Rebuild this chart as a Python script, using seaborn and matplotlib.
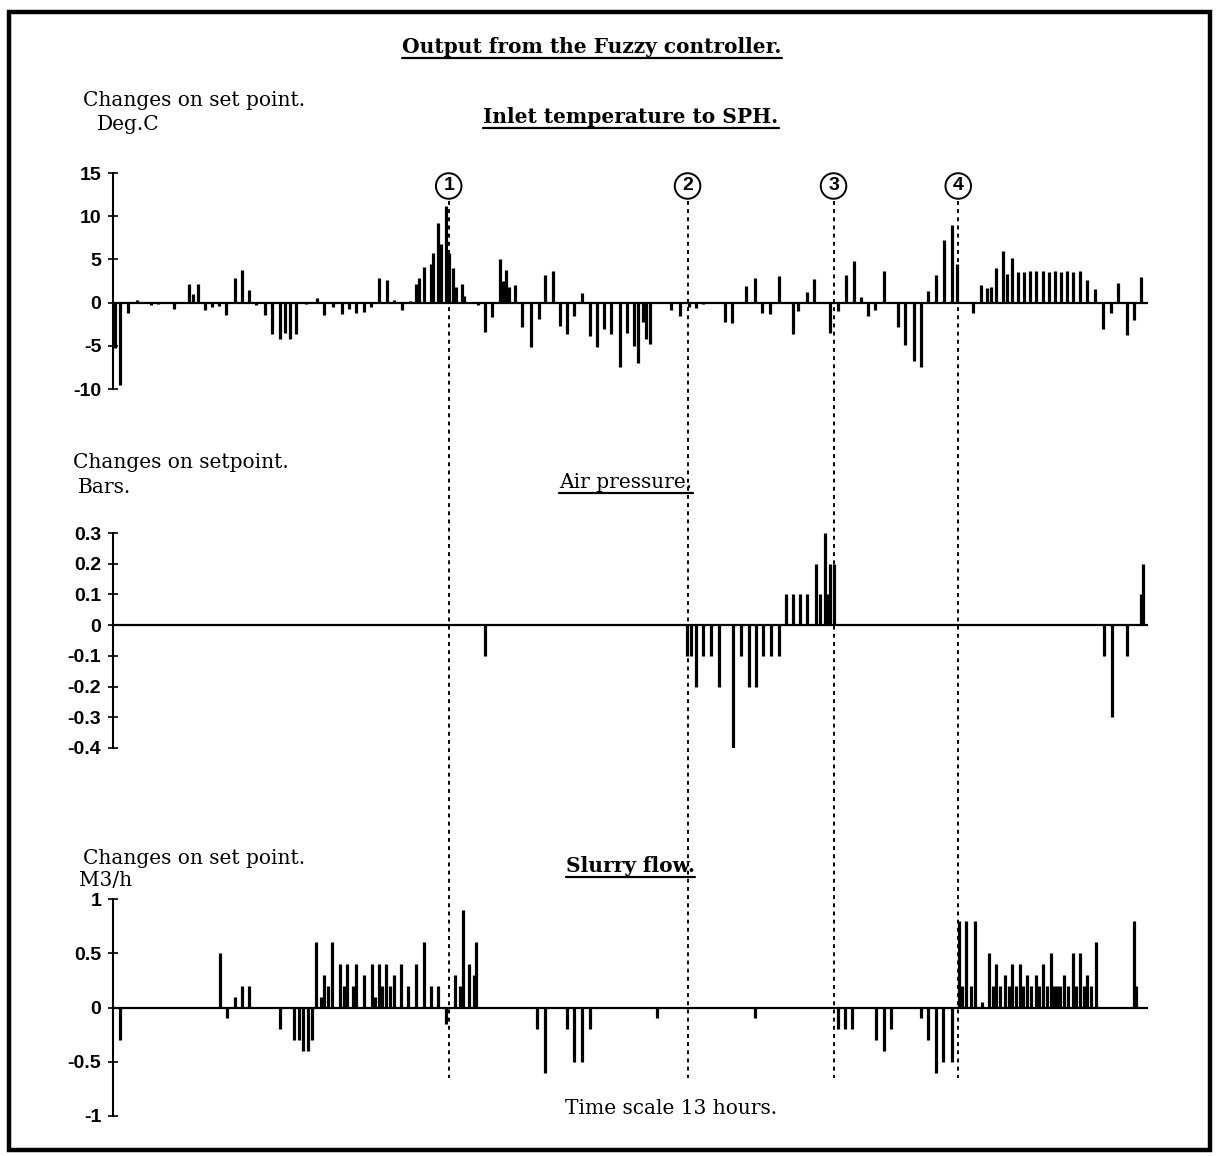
import numpy as np
import pandas as pd
import matplotlib
matplotlib.use('Agg')
import matplotlib.pyplot as plt
import seaborn as sns
from matplotlib import transforms
from matplotlib.lines import Line2D
from matplotlib.patches import Rectangle

sns.set_theme(style='white')
plt.rcParams['font.family'] = ['DejaVu Serif']
plt.rcParams['text.color'] = 'black'
plt.rcParams['ytick.color'] = 'black'
plt.rcParams['ytick.labelcolor'] = 'black'

# ---------------------------------------------------------------------------
# DATA  (time in minutes over the 13 hour window, value = change on set point)
# ---------------------------------------------------------------------------
total_minutes = 780

temp_t = [1.8, 5.3, 11.2, 18, 28.7, 34.1, 45.7, 57.5, 60.2, 63.7, 69.1, 74.5, 79.8, 85.2,
          92, 97.3, 102.7, 108.1, 114.8, 120.2, 125.6, 129.6, 133.7, 137.7, 145.8, 153.9,
          159.2, 166, 172.7, 178.1, 183.5, 188.8, 194.2, 200.4, 206.3, 211.7, 217.9, 223.8,
          228.7, 230.5, 234.6, 240, 241.3, 245.3, 247.5, 251.3, 253.4, 256.1, 258.3, 262.8,
          264.2, 274.9, 280.3, 285.7, 291.6, 293.8, 296.5, 298.6, 303.2, 308.6, 314.8, 320.7,
          325.5, 331.5, 336.8, 342.2, 347.6, 353.5, 359.7, 365.1,
          369.7, 375.1, 381.8, 387.2, 392.6, 395.3, 399.3, 402, 404.7, 420.8, 427.5, 434.3,
          439.7, 445, 461.2, 466.6, 477.3, 484.1, 489.4, 494.8, 501.6, 512.3, 516.4, 523.1,
          528.5, 540.6, 546, 552.7, 558.6, 563.4, 568.8, 574.2, 580.9, 591.7, 597.1, 603.3,
          609.2, 614, 620, 625.9, 632.1, 636.1, 648.2, 654.4, 659, 661.7, 665.7, 671.1,
          673.8, 677.8, 681.8, 686.4, 690.7, 695.3, 700.7, 705.5, 710.1, 714.1, 718.7, 723.6,
          728.9, 734.3, 739.7, 746.4, 751.8, 757.2, 763.9, 769.3, 774.7]
temp_v = [-5.2, -9.5, -1.2, 0.3, -0.3, -0.2, -0.7, 2.1, 1.0, 2.1, -0.9, -0.5, -0.4, -1.4,
          2.8, 3.8, 1.5, -0.3, -1.4, -3.6, -4.2, -3.5, -4.2, -3.6, -0.2, 0.5,
          -1.4, -0.5, -1.3, -0.7, -1.2, -1.1, -0.5, 2.8, 2.6, 0.3, -0.8, 0.2,
          2.1, 2.8, 4.1, 4.5, 5.7, 9.2, 6.8, 11.2, 5.7, 4.0, 1.8, 2.1,
          0.8, -0.3, -3.4, -1.7, 5.0, 2.5, 3.8, 1.8, 2.0, -2.8, -5.1, -1.9,
          3.2, 3.6, -2.7, -3.6, -1.6, 1.1, -3.9, -5.1,
          -3.0, -3.6, -7.5, -3.5, -5.0, -7.0, -2.3, -4.2, -4.8, -0.8, -1.5, -0.5,
          -0.6, -0.2, -2.2, -2.4, 1.9, 2.8, -1.2, -1.3, 3.1, -3.6, -1.0, 1.2,
          2.7, -3.5, -1.0, 3.2, 4.8, 0.6, -1.5, -0.8, 3.7, -2.8, -4.9, -6.8,
          -7.5, 1.3, 3.2, 7.3, 9.0, 4.5, -1.2, 2.0, 1.7, 1.8, 4.0, 6.0,
          3.3, 5.2, 3.5, 3.5, 3.6, 3.6, 3.6, 3.5, 3.6, 3.5, 3.6, 3.5,
          3.6, 2.6, 1.6, -3.0, -1.2, 2.3, -3.8, -2.0, 3.0]

air_t = [280.3, 432.9, 435.6, 439.1, 445, 450.4, 456.6, 467.4, 473.3, 479.5, 484.9, 490.2,
         495.6, 501.6, 506.9, 512.3, 517.7, 523.1, 529.8, 532.5, 536.5, 539.2, 540.6, 543.3,
         747.2, 753.2, 763.9, 775, 776]
air_v = [-0.1, -0.1, -0.1, -0.2, -0.1, -0.1, -0.2, -0.4, -0.1, -0.2, -0.2, -0.1,
         -0.1, -0.1, 0.1, 0.1, 0.1, 0.1, 0.2, 0.1, 0.3, 0.1, 0.2, 0.2,
         -0.1, -0.3, -0.1, 0.1, 0.2]

slurry_t = [5.3, 80.7, 86, 92, 97.3, 102.7, 125.6, 136.4, 139.9, 143.1, 147.1, 149.8,
            153.3, 156.5, 159.2, 161.9, 165.4, 171.3, 174, 176.7, 180.8, 183.5, 189.4, 195,
            197.7, 200.4, 203.1, 205.8, 208.5, 211.7, 217.1, 222.5, 228.7, 234, 240, 245.3,
            250.7, 257.5, 261.5, 263.6, 268.2, 272.3, 273.6, 319.3, 325.3, 342.2, 347.6, 353.5,
            359.7, 410.1, 484.1, 546, 551.3, 556.7, 575, 580.9, 586.3, 608.7, 614, 620,
            625.3, 632.1, 637.4, 640.1, 642.8, 646.9, 649.6, 654.9, 660.3, 663, 665.7, 668.5,
            672.4, 675, 677.8, 680.5, 683.2, 686, 688.6, 692, 695.3, 698, 700.7, 704,
            706.6, 709, 711.4, 714, 716.8, 720, 723.6, 726, 728.9, 732, 734.3, 737,
            740.5, 769.3, 770.6]
slurry_v = [-0.3, 0.5, -0.1, 0.1, 0.2, 0.2, -0.2, -0.3, -0.3, -0.4, -0.4, -0.3,
            0.6, 0.1, 0.3, 0.2, 0.6, 0.4, 0.2, 0.4, 0.2, 0.4, 0.3, 0.4,
            0.1, 0.4, 0.2, 0.4, 0.2, 0.3, 0.4, 0.2, 0.4, 0.6, 0.2, 0.2,
            -0.15, 0.3, 0.2, 0.9, 0.4, 0.3, 0.6, -0.2, -0.6, -0.2, -0.5, -0.5,
            -0.2, -0.1, -0.1, -0.2, -0.2, -0.2, -0.3, -0.4, -0.2, -0.1, -0.3, -0.6,
            -0.5, -0.5, 0.8, 0.2, 0.8, 0.2, 0.8, 0.05, 0.5, 0.2, 0.4, 0.2,
            0.3, 0.2, 0.4, 0.2, 0.4, 0.2, 0.3, 0.2, 0.3, 0.2, 0.4, 0.2,
            0.5, 0.2, 0.2, 0.2, 0.3, 0.2, 0.5, 0.2, 0.5, 0.2, 0.3, 0.2,
            0.6, 0.8, 0.2]

# event markers (minutes)
marker_labels = ['1', '2', '3', '4']
marker_t = [253, 433, 543, 637]

# axis ticks
temp_ticks = [15, 10, 5, 0, -5, -10]
temp_ticklabels = ['15', '10', '5', '0', '-5', '-10']
air_ticks = [0.3, 0.2, 0.1, 0, -0.1, -0.2, -0.3, -0.4]
air_ticklabels = ['0.3', '0.2', '0.1', '0', '-0.1', '-0.2', '-0.3', '-0.4']
slurry_ticks = [1, 0.5, 0, -0.5, -1]
slurry_ticklabels = ['1', '0.5', '0', '-0.5', '-1']

df_temp = pd.DataFrame({'t': temp_t, 'v': temp_v})
df_air = pd.DataFrame({'t': air_t, 'v': air_v})
df_slurry = pd.DataFrame({'t': slurry_t, 'v': slurry_v})

# ---------------------------------------------------------------------------
# FIGURE
# ---------------------------------------------------------------------------
W, H = 1219, 1156
fig = plt.figure(figsize=(W / 100, H / 100), dpi=100)
fig.patch.set_facecolor('white')

SERIF = 'DejaVu Serif'
TXT = 14.5


def fx(px):
    return px / W


def fy(py):
    return 1 - py / H


def panel(top, bottom, df, ylim, ticks, ticklabels):
    ax = fig.add_axes([fx(113), fy(bottom), fx(1148) - fx(113), fy(top) - fy(bottom)])
    ax.set_facecolor('none')
    ax.vlines(df['t'], 0, df['v'], color='black', lw=2.3)
    ax.axhline(0, color='black', lw=1.6, zorder=3)
    ax.set_xlim(0, total_minutes)
    ax.set_ylim(*ylim)
    ax.set_yticks(ticks)
    ax.set_yticklabels(ticklabels, fontfamily='Liberation Sans', fontweight='bold',
                       fontsize=14, color='black')
    ax.set_xticks([])
    sns.despine(ax=ax, bottom=True, right=True, top=True)
    ax.spines['left'].set_color('black')
    ax.spines['left'].set_linewidth(1.5)
    ax.tick_params(axis='y', direction='inout', length=7, width=1.2, color='black', pad=5, left=True)
    ax.grid(False)
    return ax


ax1 = panel(173, 389, df_temp, (-10, 15), temp_ticks, temp_ticklabels)
ax2 = panel(533, 748, df_air, (-0.4, 0.3), air_ticks, air_ticklabels)
ax3 = panel(899, 1116, df_slurry, (-1, 1), slurry_ticks, slurry_ticklabels)

# event markers: dotted lines across all panels and circled numbers
trans = transforms.blended_transform_factory(ax1.transData, fig.transFigure)
for lab, t in zip(marker_labels, marker_t):
    fig.add_artist(Line2D([t, t], [fy(201), fy(1078)], transform=trans,
                          color='black', lw=1.4, linestyle=(0, (2, 2.2))))
    fig.text(t, fy(186), lab, transform=trans, ha='center', va='center',
             fontsize=14, fontweight='bold', fontfamily='Liberation Sans', color='black',
             bbox=dict(boxstyle='circle,pad=0.22', fc='white', ec='black', lw=1.4))

# texts
texts_underlined = []
t = fig.text(fx(592), fy(47), 'Output from the Fuzzy controller.', ha='center', va='center',
             fontsize=TXT, fontweight='bold', fontfamily=SERIF)
texts_underlined.append(t)
fig.text(fx(83), fy(100), 'Changes on set point.', ha='left', va='center', fontsize=TXT, fontfamily=SERIF)
fig.text(fx(97), fy(124), 'Deg.C', ha='left', va='center', fontsize=TXT, fontfamily=SERIF)
t = fig.text(fx(631), fy(117), 'Inlet temperature to SPH.', ha='center', va='center',
             fontsize=TXT, fontweight='bold', fontfamily=SERIF)
texts_underlined.append(t)

fig.text(fx(73), fy(462), 'Changes on setpoint.', ha='left', va='center', fontsize=TXT, fontfamily=SERIF)
fig.text(fx(78), fy(487), 'Bars.', ha='left', va='center', fontsize=TXT, fontfamily=SERIF)
t = fig.text(fx(626), fy(482), 'Air pressure.', ha='center', va='center', fontsize=TXT,
             fontfamily=SERIF)
texts_underlined.append(t)

fig.text(fx(83), fy(858), 'Changes on set point.', ha='left', va='center', fontsize=TXT, fontfamily=SERIF)
fig.text(fx(79), fy(881), 'M3/h', ha='left', va='center', fontsize=TXT, fontfamily=SERIF)
t = fig.text(fx(630), fy(866), 'Slurry flow.', ha='center', va='center',
             fontsize=TXT, fontweight='bold', fontfamily=SERIF)
texts_underlined.append(t)

fig.text(fx(671), fy(1108), 'Time scale 13 hours.', ha='center', va='center', fontsize=TXT,
         fontfamily=SERIF)

# underline the headings
fig.canvas.draw()
renderer = fig.canvas.get_renderer()
for t in texts_underlined:
    bb = t.get_window_extent(renderer)
    fig.add_artist(Line2D([bb.x0 / W, bb.x1 / W], [(bb.y0 - 1) / H, (bb.y0 - 1) / H],
                          transform=fig.transFigure, color='black', lw=1.6))

# page border
fig.add_artist(Rectangle((fx(9), fy(1150)), fx(1210) - fx(9), fy(12) - fy(1150),
                         transform=fig.transFigure, fill=False, ec='black', lw=3.2))

fig.savefig('out.png', dpi=100)
print('saved out.png')
